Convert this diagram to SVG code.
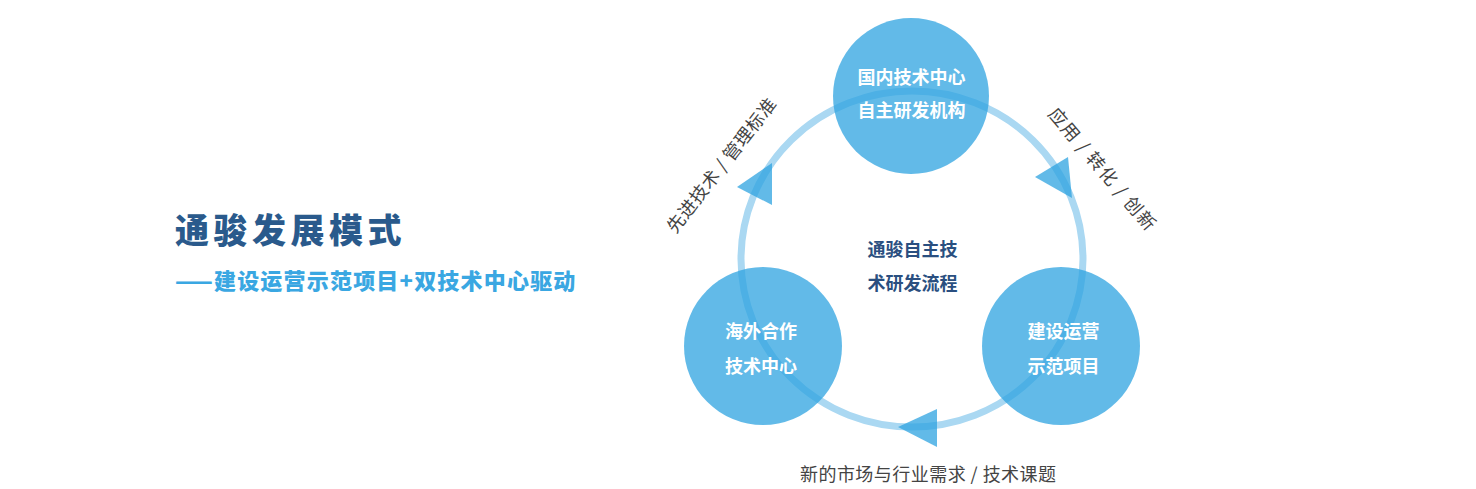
<svg xmlns="http://www.w3.org/2000/svg" width="1476" height="489" viewBox="0 0 1476 489">
  <style>
    .cjk { font-family: "Noto Sans CJK SC", "Noto Sans", sans-serif; }
    .title { font-size: 34px; font-weight: 900; fill: #2a5a8c; letter-spacing: 4.5px; }
    .subtitle { font-size: 22px; font-weight: 900; fill: #3aa7e2; letter-spacing: 1.2px; }
    .node { fill: #2ea3e0; fill-opacity: 0.75; }
    .nodetext { font-size: 18px; font-weight: 700; fill: #ffffff; text-anchor: middle; }
    .centertext { font-size: 18px; font-weight: 700; fill: #2a4f80; text-anchor: middle; }
    .ring { fill: none; stroke: #aad8f2; stroke-width: 7; }
    .arrow { fill: #2ea3e0; fill-opacity: 0.75; }
    .label { font-size: 18px; font-weight: 400; fill: #444444; text-anchor: middle; }
  </style>

  <g id="title" class="cjk">
    <text class="title" x="175" y="243">通骏发展模式</text>
    <text class="subtitle" x="175" y="288.5">——建设运营示范项目+双技术中心驱动</text>
  </g>

  <g id="connectors">
    <ellipse class="ring" cx="912" cy="259" rx="171" ry="168"/>
    <polygon class="arrow" points="737,187 772,163 772,205"/>
    <polygon class="arrow" points="1035,177 1068,157 1072,198"/>
    <polygon class="arrow" points="898,427 937,409 937,447"/>
    <text class="cjk label" transform="translate(721,165) rotate(-52)" x="0" y="7" textLength="165" lengthAdjust="spacing">先进技术 / 管理标准</text>
    <text class="cjk label" transform="translate(1102.5,168.5) rotate(49.5)" x="0" y="7" textLength="154" lengthAdjust="spacing">应用 / 转化 / 创新</text>
    <text class="cjk label" x="928" y="481" textLength="256" lengthAdjust="spacing">新的市场与行业需求 / 技术课题</text>
  </g>

  <g id="node-domestic">
    <circle class="node" cx="911" cy="96" r="78"/>
    <text class="cjk nodetext" x="911.5" y="84">国内技术中心</text>
    <text class="cjk nodetext" x="911.5" y="116.5">自主研发机构</text>
  </g>

  <g id="node-overseas">
    <circle class="node" cx="763" cy="346" r="79"/>
    <text class="cjk nodetext" x="761" y="338">海外合作</text>
    <text class="cjk nodetext" x="761" y="373">技术中心</text>
  </g>

  <g id="node-demo">
    <circle class="node" cx="1061" cy="346" r="79"/>
    <text class="cjk nodetext" x="1063.5" y="338">建设运营</text>
    <text class="cjk nodetext" x="1063.5" y="373">示范项目</text>
  </g>

  <g id="center-label">
    <text class="cjk centertext" x="912.5" y="256">通骏自主技</text>
    <text class="cjk centertext" x="912.5" y="290">术研发流程</text>
  </g>
</svg>
